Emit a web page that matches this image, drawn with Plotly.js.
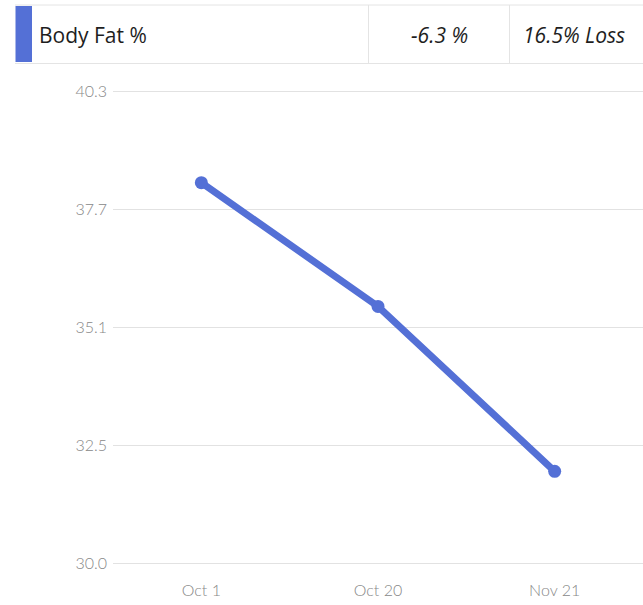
<!DOCTYPE html>
<html>
<head>
<meta charset="utf-8">
<script src="https://cdn.plot.ly/plotly-3.0.1.min.js"></script>
<style>
  html, body { margin: 0; padding: 0; background: #fff; }
  #chart { width: 643px; height: 605px; }
</style>
</head>
<body>
<div id="chart"></div>
<script>
// ---- data ----
const categories = ['Oct 1', 'Oct 20', 'Nov 21'];
const bodyFat = [38.3, 35.6, 32.0];
const yTickVals = [30.0, 32.575, 35.15, 37.725, 40.3];
const yTickText = ['30.0', '32.5', '35.1', '37.7', '40.3'];
const headerLabel = 'Body Fat %';
const headerChange = '-6.3 %';
const headerLoss = '16.5% Loss';

// ---- layout helpers (pixel -> paper) ----
const W = 643, H = 605;
const mL = 113, mR = 0, mT = 86, mB = 37;
const pw = W - mL - mR, ph = H - mT - mB;
const X = px => (px - mL) / pw;
const Y = py => (H - mB - py) / ph;
// 5px of padding above/below the outer gridlines so they are drawn
const yMin = 30.0, yMax = 40.3;
const padUnits = 5 * (yMax - yMin) / (ph - 10);

const blue = 'rgb(84,112,214)';
const border = '#e4e4e4';

const trace = {
  x: categories,
  y: bodyFat,
  type: 'scatter',
  mode: 'lines+markers',
  line: { color: blue, width: 7 },
  marker: { color: blue, size: 13 },
  hoverinfo: 'skip',
  cliponaxis: false
};

const layout = {
  width: W, height: H,
  margin: { l: mL, r: mR, t: mT, b: mB, pad: 0 },
  paper_bgcolor: '#fff', plot_bgcolor: '#fff',
  showlegend: false,
  font: { family: 'Lato, sans-serif', color: '#888', size: 15 },
  xaxis: {
    type: 'category',
    range: [-0.5, 2.5],
    showgrid: false, zeroline: false, showline: false,
    ticks: '', ticklen: 0, ticklabelstandoff: 11,
    tickfont: { family: 'Lato, sans-serif', size: 16, color: '#888', weight: 300 },
    fixedrange: true
  },
  yaxis: {
    range: [yMin - padUnits, yMax + padUnits],
    tickmode: 'array',
    tickvals: yTickVals,
    ticktext: yTickText,
    showgrid: true, gridcolor: '#e2e2e2', gridwidth: 1,
    zeroline: false, showline: false,
    ticks: '', ticklabelstandoff: 5,
    tickfont: { family: 'Lato, sans-serif', size: 16, color: '#888', weight: 300 },
    fixedrange: true
  },
  shapes: [
    { type: 'line', xref: 'paper', yref: 'paper', x0: X(15), x1: X(643), y0: Y(5), y1: Y(5), line: { color: border, width: 1 } },
    { type: 'line', xref: 'paper', yref: 'paper', x0: X(15), x1: X(643), y0: Y(63.5), y1: Y(63.5), line: { color: border, width: 1 } },
    { type: 'line', xref: 'paper', yref: 'paper', x0: X(368.5), x1: X(368.5), y0: Y(5), y1: Y(63.5), line: { color: border, width: 1 } },
    { type: 'line', xref: 'paper', yref: 'paper', x0: X(509.5), x1: X(509.5), y0: Y(5), y1: Y(63.5), line: { color: border, width: 1 } },
    { type: 'rect', xref: 'paper', yref: 'paper', x0: X(15.5), x1: X(32), y0: Y(62), y1: Y(6), fillcolor: blue, line: { width: 0 } }
  ],
  annotations: [
    { xref: 'paper', yref: 'paper', x: X(37), y: Y(35), xanchor: 'left', yanchor: 'middle', showarrow: false,
      text: headerLabel, font: { family: 'Open Sans, sans-serif', size: 21, color: '#1e1e1e' } },
    { xref: 'paper', yref: 'paper', x: X(470), y: Y(35), xanchor: 'right', yanchor: 'middle', showarrow: false,
      text: headerChange, font: { family: 'Open Sans, sans-serif', size: 21, color: '#1e1e1e', style: 'italic' } },
    { xref: 'paper', yref: 'paper', x: X(521), y: Y(35), xanchor: 'left', yanchor: 'middle', showarrow: false,
      text: headerLoss, font: { family: 'Open Sans, sans-serif', size: 21, color: '#1e1e1e', style: 'italic' } }
  ]
};

Plotly.newPlot('chart', [trace], layout, { displayModeBar: false, staticPlot: true });
</script>
</body>
</html>
